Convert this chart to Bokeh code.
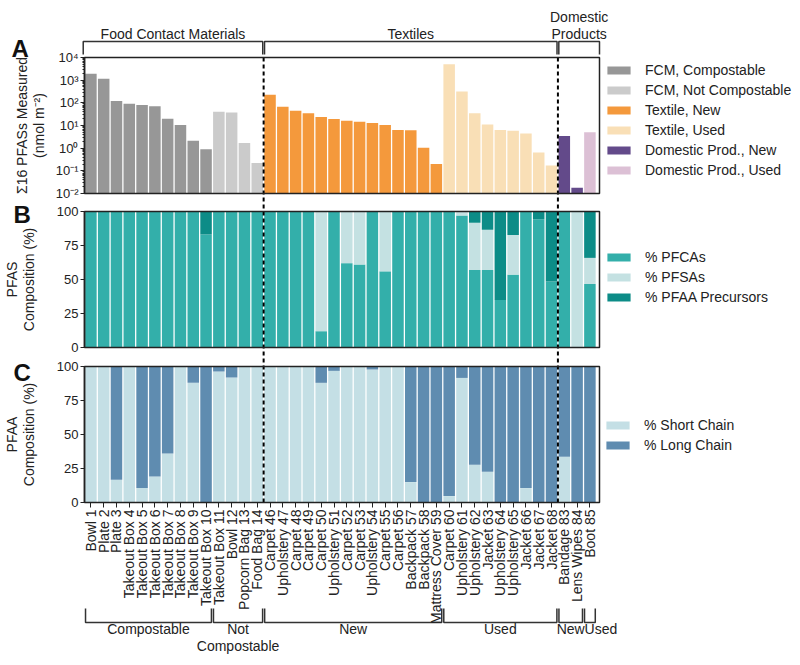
import math
from bokeh.plotting import figure
from bokeh.models import (Range1d, FixedTicker, CustomJSTickFormatter, LogScale, LogAxis,
                          LinearAxis, Legend, LegendItem, BoxAnnotation, ColumnDataSource)
from bokeh.embed import file_html
from bokeh.resources import INLINE
from bokeh.core.properties import value

# ---------------- data ----------------
names = ["Bowl 1", "Plate 2", "Plate 3", "Takeout Box 4", "Takeout Box 5", "Takeout Box 6",
         "Takeout Box 7", "Takeout Box 8", "Takeout Box 9", "Takeout Box 10", "Takeout Box 11",
         "Bowl 12", "Popcorn Bag 13", "Food Bag 14",
         "Carpet 46", "Upholstery 47", "Carpet 48", "Carpet 49", "Carpet 50", "Upholstery 51",
         "Carpet 52", "Carpet 53", "Upholstery 54", "Carpet 55", "Carpet 56", "Backpack 57",
         "Backpack 58", "Mattress Cover 59",
         "Carpet 60", "Upholstery 61", "Upholstery 62", "Jacket 63", "Upholstery 64",
         "Upholstery 65", "Jacket 66", "Jacket 67", "Jacket 68",
         "Bandage 83", "Lens Wipes 84", "Boot 85"]

category = (["FCM, Compostable"] * 10 + ["FCM, Not Compostable"] * 4 +
            ["Textile, New"] * 14 + ["Textile, Used"] * 9 +
            ["Domestic Prod., New"] * 2 + ["Domestic Prod., Used"] * 1)

total_pfas = [1900, 1150, 120, 90, 81, 70, 20, 10.5, 2.1, 0.9, 40, 37, 1.7, 0.22,
              230, 68, 45, 35, 24, 19.5, 16, 14.5, 13, 10.5, 6.3, 6.1, 1.05, 0.2,
              5100, 315, 35, 11, 6.3, 5.9, 4.4, 0.65, 0.17,
              3.4, 0.018, 5.0]

pct_pfca = [100, 100, 100, 100, 100, 100, 100, 100, 100, 83, 100, 100, 100, 100,
            100, 100, 100, 100, 12, 100, 62, 61, 100, 56, 100, 100, 100, 100,
            100, 97, 57, 57, 35, 53.6, 100, 94.3, 48.6,
            100, 0, 46.7]
pct_pfsa = [0, 0, 0, 0, 0, 0, 0, 0, 0, 0, 0, 0, 0, 0,
            0, 0, 0, 0, 88, 0, 38, 39, 0, 44, 0, 0, 0, 0,
            0, 3, 34.7, 29.5, 0, 29.2, 0, 0, 0,
            0, 100, 19.2]
pct_prec = [0, 0, 0, 0, 0, 0, 0, 0, 0, 17, 0, 0, 0, 0,
            0, 0, 0, 0, 0, 0, 0, 0, 0, 0, 0, 0, 0, 0,
            0, 0, 8.3, 13.5, 65, 17.2, 0, 5.7, 51.4,
            0, 0, 34.1]

pct_short = [100, 100, 16.7, 100, 10.6, 19.2, 36, 100, 88, 0, 96.3, 91.9, 100, 100,
             100, 100, 100, 100, 88, 96.8, 100, 100, 97.8, 100, 100, 15, 0, 0,
             4.7, 91.6, 27.8, 22.6, 0, 0, 10.6, 0, 0,
             33.6, 0, 0]
pct_long = [0, 0, 83.3, 0, 89.4, 80.8, 64, 0, 12, 100, 3.7, 8.1, 0, 0,
            0, 0, 0, 0, 12, 3.2, 0, 0, 2.2, 0, 0, 85, 100, 100,
            95.3, 8.4, 72.2, 77.4, 100, 100, 89.4, 100, 100,
            66.4, 100, 100]

top_groups = [("Food Contact Materials", 0, 13), ("Textiles", 14, 36), ("Domestic\nProducts", 37, 39)]
bottom_groups = [("Compostable", 0, 9), ("Not\nCompostable", 10, 13), ("New", 14, 27),
                 ("Used", 28, 36), ("New", 37, 38), ("Used", 39, 39)]
divider_positions = [13.5, 36.5]
log_ticks = [1e-2, 1e-1, 1e0, 1e1, 1e2, 1e3, 1e4]
pct_ticks = [0, 25, 50, 75, 100]

cat_colors = {"FCM, Compostable": "#979797", "FCM, Not Compostable": "#cbcbcb",
              "Textile, New": "#f4993c", "Textile, Used": "#f9dfb6",
              "Domestic Prod., New": "#634a8a", "Domestic Prod., Used": "#dcc0d5"}
comp_labels = ["% PFCAs", "% PFSAs", "% PFAA Precursors"]
comp_colors = ["#33afaa", "#c4e1e2", "#0c8c87"]
chain_labels = ["% Short Chain", "% Long Chain"]
chain_colors = ["#c4dfe5", "#5f8cb0"]

# ---------------- layout (pixel geometry of the page) ----------------
FONT = "Liberation Sans"
TXT = "#222222"
LINE = "#222222"
W, H = 796, 662
X0, X1 = -0.5, 39.75          # data extent of the bar panels
FRAME_L, FRAME_R = 84, 599    # page x of panel edges
PX = (FRAME_R - FRAME_L) / (X1 - X0)
TEXT_DY = 4.5                 # baseline correction for the svg text


def xp(img_x):                # page x -> data x
    return X0 + (img_x - FRAME_L) / PX


def yp(img_y):                # page y -> pixel-range y (from bottom)
    return H - img_y


XL, XR = xp(0), xp(W)
A_bot, A_top = yp(193), yp(57)
B_bot, B_top = yp(347), yp(211)
C_bot, C_top = yp(502), yp(366)

dpp = 6 / (A_top - A_bot)
rangeA = Range1d(10 ** (-2 - A_bot * dpp), 10 ** (4 + (H - A_top) * dpp))
ppB = 100 / (B_top - B_bot)
rangeB = Range1d(-B_bot * ppB, 100 + (H - B_top) * ppB)
ppC = 100 / (C_top - C_bot)
rangeC = Range1d(-C_bot * ppC, 100 + (H - C_top) * ppC)

p = figure(width=W, height=H, x_range=Range1d(XL, XR), y_range=Range1d(0, H),
           x_axis_location=None, y_axis_location=None, min_border=0,
           toolbar_location=None, output_backend="svg", title=None)
p.extra_y_ranges = {"A": rangeA, "B": rangeB, "C": rangeC}
p.extra_y_scales = {"A": LogScale()}
p.grid.visible = False
p.outline_line_color = None
p.background_fill_color = "white"
p.border_fill_color = "white"

xs = list(range(len(names)))


def style_axis(ax, label, standoff):
    ax.axis_line_color = LINE
    ax.axis_line_width = 1.5
    ax.major_tick_line_color = LINE
    ax.major_tick_out = 4
    ax.major_tick_in = 0
    ax.major_label_standoff = 2
    ax.major_label_text_font = FONT
    ax.major_label_text_font_size = "13px"
    ax.major_label_text_color = TXT
    ax.axis_label = label
    ax.axis_label_standoff = standoff
    ax.axis_label_text_font = FONT
    ax.axis_label_text_font_size = "14px"
    ax.axis_label_text_font_style = "normal"
    ax.axis_label_text_color = TXT
    ax.axis_label_text_line_height = 1.05


def make_legend(items, loc):
    lg = Legend(items=items, location=loc, padding=0, margin=0, spacing=0,
                border_line_color=None, background_fill_alpha=0,
                glyph_width=29, glyph_height=10, label_height=20, label_standoff=12,
                label_text_font=FONT, label_text_font_size="14px", label_text_color=TXT)
    p.add_layout(lg)


# ---------------- panel A ----------------
srcA = ColumnDataSource(dict(x=xs, top=total_pfas, cat=category,
                             color=[cat_colors[c] for c in category]))
rA = p.vbar(x="x", top="top", bottom=1e-2, width=0.9, fill_color="color", line_color=None,
            source=srcA, y_range_name="A")
axA = LogAxis(y_range_name="A", fixed_location=X0, bounds=(1e-2, 1e4),
              ticker=FixedTicker(ticks=log_ticks,
                                 minor_ticks=[k * t for t in log_ticks[:-1] for k in range(2, 10)]))
axA.formatter = CustomJSTickFormatter(code="""
const sup = {"-": "\u207b", "0": "\u2070", "1": "\u00b9", "2": "\u00b2", "3": "\u00b3", "4": "\u2074"};
const e = Math.round(Math.log10(tick));
return "10" + String(e).split("").map(c => sup[c]).join("");
""")
style_axis(axA, "\u03a316 PFASs Measured\n(nmol m\u207b\u00b2)", 6)
axA.minor_tick_out = 2
axA.minor_tick_in = 0
axA.minor_tick_line_color = LINE
p.add_layout(axA, "left")
seen = []
for c in category:
    if c not in seen:
        seen.append(c)
make_legend([LegendItem(label=c, renderers=[rA], index=category.index(c)) for c in seen],
            (604, yp(180)))

# ---------------- panel B ----------------
srcB = ColumnDataSource(dict(x=xs, pfca=pct_pfca, pfsa=pct_pfsa, prec=pct_prec))
rB = p.vbar_stack(["pfca", "pfsa", "prec"], x="x", width=0.9, fill_color=comp_colors,
                  line_color=None, source=srcB, y_range_name="B")
axB = LinearAxis(y_range_name="B", fixed_location=X0, bounds=(0, 100),
                 ticker=FixedTicker(ticks=pct_ticks))
style_axis(axB, "PFAS\nComposition (%)", 17)
p.add_layout(axB, "left")
make_legend([LegendItem(label=l, renderers=[r]) for l, r in zip(comp_labels, rB)],
            (604, yp(307)))

# ---------------- panel C ----------------
srcC = ColumnDataSource(dict(x=xs, short=pct_short, long=pct_long))
rC = p.vbar_stack(["short", "long"], x="x", width=0.9, fill_color=chain_colors,
                  line_color=None, source=srcC, y_range_name="C")
axC = LinearAxis(y_range_name="C", fixed_location=X0, bounds=(0, 100),
                 ticker=FixedTicker(ticks=pct_ticks))
style_axis(axC, "PFAA\nComposition (%)", 17)
p.add_layout(axC, "left")
make_legend([LegendItem(label=l, renderers=[r]) for l, r in zip(chain_labels, rC)],
            (603, yp(455)))

# x axis with the sample names
axX = LinearAxis(fixed_location=C_bot, bounds=(X0, X1), ticker=FixedTicker(ticks=xs))
axX.formatter = CustomJSTickFormatter(args=dict(labels=names),
                                      code="return labels[Math.round(tick)] || '';")
axX.major_label_orientation = math.pi / 2
axX.axis_line_color = None
axX.major_tick_line_color = LINE
axX.major_tick_out = 5
axX.major_tick_in = 0
axX.major_label_standoff = 2
axX.major_label_text_font = FONT
axX.major_label_text_font_size = "14px"
axX.major_label_text_color = TXT
p.add_layout(axX, "below")

# panel frames
for bot, top in [(A_bot, A_top), (B_bot, B_top), (C_bot, C_top)]:
    p.add_layout(BoxAnnotation(left=X0, right=X1, bottom=bot, top=top, fill_color=None,
                               fill_alpha=0, line_color=LINE, line_alpha=1.0, line_width=1.5))

# dashed dividers through all panels
p.segment(x0=divider_positions, y0=[A_top] * 2, x1=divider_positions, y1=[C_bot] * 2,
          line_color="black", line_width=2, line_dash="4 3")

# ---------------- top brackets ----------------
bx, by, tx, ty, tt = [], [], [], [], []
for i, (lab, s, e) in enumerate(top_groups):
    x0 = s - 0.5 + 0.07 if i > 0 else X0 - 0.1
    x1 = e + 0.5 - 0.07 if i < len(top_groups) - 1 else X1
    bx.append([x0, x0, x1, x1])
    by.append([yp(54), yp(41), yp(41), yp(54)])
    lines = lab.split("\n")
    for j, ln in enumerate(lines):
        tx.append((x0 + x1) / 2)
        ty.append(yp(38.3) + TEXT_DY + (len(lines) - 1 - j) * 17.6)
        tt.append(ln)
p.multi_line(bx, by, line_color="#333333", line_width=1.5)
p.text(tx, ty, text=tt, text_align="center", text_baseline="alphabetic",
       text_font=value(FONT), text_font_size=value("14px"), text_color=TXT)

# ---------------- bottom brackets ----------------
bx, by, tx, ty, tt, ta = [], [], [], [], [], []
for lab, s, e in bottom_groups:
    x0 = s - 0.5 + 0.08
    x1 = e + 0.5 - 0.08
    bx.append([x0, x0, x1, x1])
    by.append([yp(608), yp(622), yp(622), yp(608)])
    for j, ln in enumerate(lab.split("\n")):
        if s == e:
            tx.append(x0)
            ta.append("left")
        else:
            tx.append((x0 + x1) / 2)
            ta.append("center")
        ty.append(yp(632.7) + TEXT_DY - j * 17.4)
        tt.append(ln)
p.multi_line(bx, by, line_color="#333333", line_width=1.5)
srcT = ColumnDataSource(dict(x=tx, y=ty, t=tt, a=ta))
p.text(x="x", y="y", text="t", text_align="a", text_baseline="alphabetic",
       text_font=value(FONT), text_font_size=value("14px"), text_color=TXT, source=srcT)

# panel letters
p.text([xp(11), xp(13), xp(13)], [yp(53) + 5, yp(219) + 5, yp(377) + 5], text=["A", "B", "C"],
       text_align="left", text_baseline="alphabetic", text_font=value(FONT),
       text_font_size=value("24px"), text_font_style="bold", text_color="#111111")

open("out.html", "w").write(file_html(p, INLINE))
